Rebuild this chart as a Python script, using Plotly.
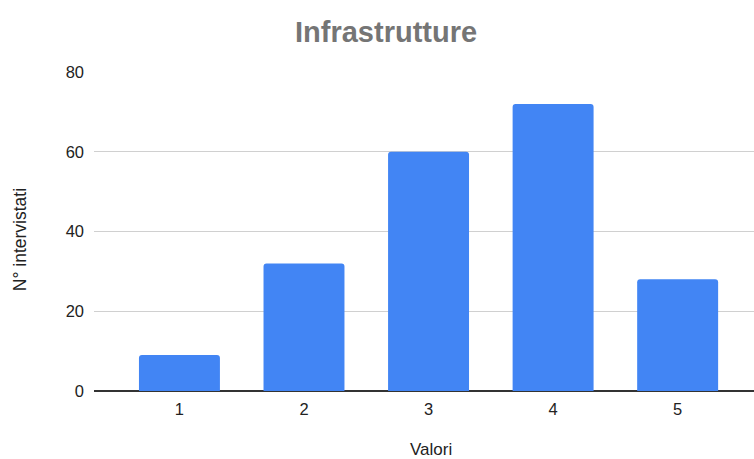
import plotly.graph_objects as go

# Survey answers: rating value -> number of respondents
valori = [1, 2, 3, 4, 5]
intervistati = [9, 32, 60, 72, 28]
tick_y = [0, 20, 40, 60, 80]

fig = go.Figure(
    go.Bar(
        x=valori,
        y=intervistati,
        marker=dict(color="#4285F4", line=dict(width=0)),
        width=0.65,
    )
)

fig.update_layout(
    width=754,
    height=459,
    margin=dict(l=94, r=0, t=72, b=68),
    paper_bgcolor="white",
    plot_bgcolor="white",
    barcornerradius=3,
    showlegend=False,
    font=dict(family="Liberation Sans, Arial, sans-serif", color="#222222", size=17),
    title=dict(
        text="<b>Infrastrutture</b>",
        x=0.512,
        xanchor="center",
        y=0.93,
        yanchor="middle",
        font=dict(size=29, color="#757575", family="Liberation Sans, Arial, sans-serif"),
    ),
    annotations=[
        # axis titles, placed in paper coordinates
        dict(
            text="N° intervistati",
            xref="paper", yref="paper",
            x=-0.112, y=0.473,
            xanchor="center", yanchor="middle",
            textangle=-90, showarrow=False,
            font=dict(size=17.5, color="#222222"),
        ),
        dict(
            text="Valori",
            xref="paper", yref="paper",
            x=0.51, y=-0.184,
            xanchor="center", yanchor="middle",
            showarrow=False,
            font=dict(size=17, color="#222222"),
        ),
    ],
)

fig.update_xaxes(
    range=[0.314, 5.613],
    tickvals=valori,
    ticktext=[str(v) for v in valori],
    showgrid=False,
    showline=False,
    zeroline=False,
    ticks="",
    ticklabelstandoff=6,
    tickfont=dict(size=16.5, color="#222222"),
)

fig.update_yaxes(
    range=[0, 80],
    tickvals=tick_y,
    showgrid=True,
    gridcolor="#d0d0d0",
    gridwidth=1,
    zeroline=True,
    zerolinecolor="#333333",
    zerolinewidth=1.5,
    showline=False,
    ticks="",
    ticklabelstandoff=9,
    tickfont=dict(size=16.5, color="#222222"),
)

fig.write_html("out.html")
